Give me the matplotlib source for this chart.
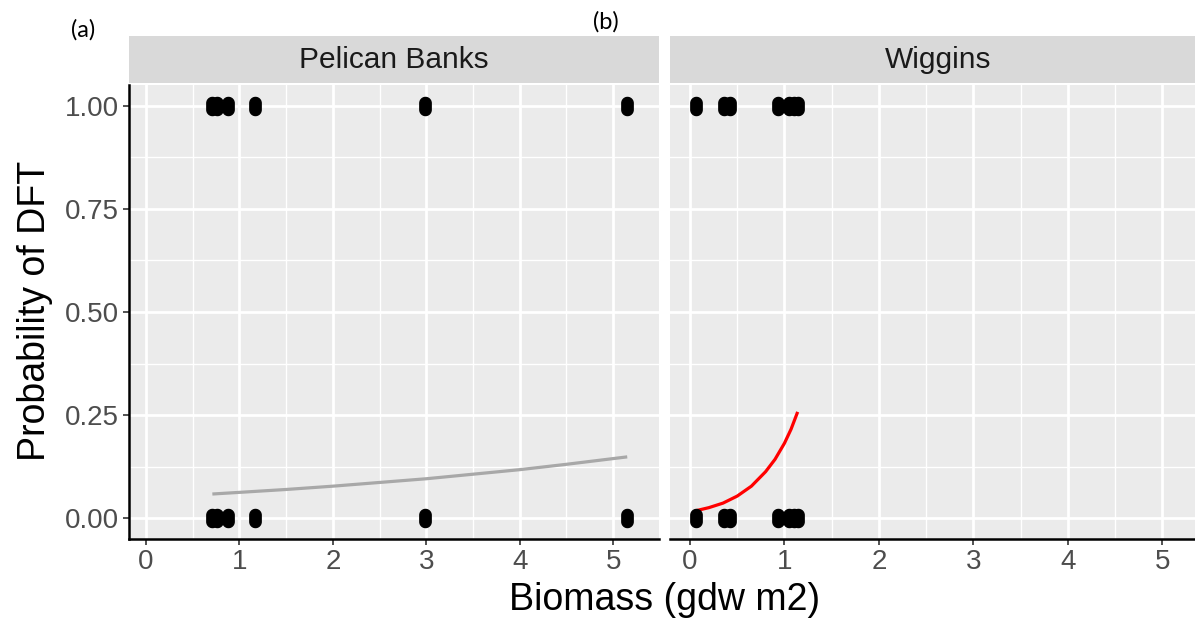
import matplotlib
matplotlib.use("Agg")
import matplotlib.pyplot as plt
import numpy as np
from matplotlib.path import Path
from matplotlib.ticker import MultipleLocator

# ---------------- data ----------------
panels = ["Pelican Banks", "Wiggins"]

pb_biomass = [0.71, 0.76, 0.88, 1.17, 2.99, 5.15]
wg_biomass = [0.06, 0.355, 0.425, 0.93, 1.05, 1.10, 1.14]
dft_present = [1.0]
dft_absent = [0.0]

pb_fit_x = [0.71, 1.0, 1.5, 2.0, 2.5, 3.0, 3.5, 4.0, 4.5, 5.15]
pb_fit_y = [0.059, 0.063, 0.070, 0.078, 0.087, 0.096, 0.107, 0.118, 0.131, 0.149]

wg_fit_x = [0.053, 0.2, 0.35, 0.5, 0.65, 0.8, 0.9, 1.0, 1.07, 1.14]
wg_fit_y = [0.018, 0.026, 0.037, 0.054, 0.078, 0.113, 0.143, 0.182, 0.216, 0.258]

x_ticks = [0, 1, 2, 3, 4, 5]
y_ticks = [0.00, 0.25, 0.50, 0.75, 1.00]
y_tick_labels = ["0.00", "0.25", "0.50", "0.75", "1.00"]

# ---------------- style ----------------
W, H = 1195, 621
fig = plt.figure(figsize=(W / 100, H / 100), dpi=100)
FONT = ["Liberation Sans", "DejaVu Sans"]
plt.rcParams["font.family"] = FONT

panel_bg = "#EBEBEB"
strip_bg = "#D9D9D9"
tick_col = "#4D4D4D"

# stadium-shaped marker (overlapping jittered points look like this)
t = np.linspace(0, np.pi, 20)
top = np.column_stack([0.5 * np.cos(t), 0.3 + 0.5 * np.sin(t)])
bot = np.column_stack([-0.5 * np.cos(t), -0.3 - 0.5 * np.sin(t)])
verts = np.vstack([top, bot, top[:1]])
stadium = Path(verts, closed=True)


def fpos(x0, y0, x1, y1):
    return [x0 / W, 1 - y1 / H, (x1 - x0) / W, (y1 - y0) / H]


panel_top, panel_bot = 85, 539
specs = [
    (129, 659, (-0.182, 5.49), pb_biomass, pb_fit_x, pb_fit_y, "#A8A8A8", True),
    (670, 1207, (-0.212, 5.475), wg_biomass, wg_fit_x, wg_fit_y, "#FF0000", False),
]

for (x0, x1, xlim, xs, fx, fy, lc, show_y), name in zip(specs, panels):
    ax = fig.add_axes(fpos(x0, panel_top, x1, panel_bot))
    ax.set_facecolor(panel_bg)
    ax.set_xlim(*xlim)
    ax.set_ylim(-0.05, 1.05)
    ax.set_xticks(x_ticks)
    ax.set_xticklabels([str(v) for v in x_ticks])
    ax.xaxis.set_minor_locator(MultipleLocator(0.5))
    ax.set_yticks(y_ticks)
    ax.yaxis.set_minor_locator(MultipleLocator(0.125))
    ax.grid(which="major", color="white", lw=2.0)
    ax.grid(which="minor", color="white", lw=1.0)
    ax.set_axisbelow(True)
    for s in ["top", "right"]:
        ax.spines[s].set_visible(False)
    ax.spines["bottom"].set_linewidth(1.8)
    ax.spines["bottom"].set_color("black")
    ax.tick_params(axis="x", which="major", length=4, width=1.2, color="#333333",
                   labelsize=20, labelcolor=tick_col, pad=3)
    ax.tick_params(which="minor", length=0)
    if show_y:
        ax.spines["left"].set_linewidth(1.8)
        ax.spines["left"].set_color("black")
        ax.set_yticklabels(y_tick_labels)
        ax.tick_params(axis="y", which="major", length=4, width=1.2, color="#333333",
                       labelsize=20, labelcolor=tick_col, pad=3)
    else:
        ax.spines["left"].set_visible(False)
        ax.tick_params(axis="y", which="major", length=0, labelleft=False)

    ax.plot(fx, fy, color=lc, lw=2.3, solid_capstyle="butt", zorder=3)
    ax.plot(xs, dft_present * len(xs), ls="none", marker=stadium, ms=13,
            color="black", zorder=4)
    ax.plot(xs, dft_absent * len(xs), ls="none", marker=stadium, ms=13,
            color="black", zorder=4)

    # strip
    sx = fig.add_axes(fpos(x0, 36, x1, 83))
    sx.set_facecolor(strip_bg)
    sx.set_xticks([])
    sx.set_yticks([])
    for s in sx.spines.values():
        s.set_visible(False)
    sx.text(0.5, 0.5, name, transform=sx.transAxes, ha="center", va="center",
            fontsize=21.5, color="#1A1A1A")

fig.text(665 / W, 1 - 600 / H, "Biomass (gdw m2)", ha="center", va="center",
         fontsize=27, color="black")
fig.text(35 / W, 1 - 311 / H, "Probability of DFT", ha="center", va="center",
         rotation=90, fontsize=27, color="black")

lab_font = ["Lato", "DejaVu Sans"]
fig.text(83 / W, 1 - 30 / H, "(a)", ha="center", va="center", fontsize=17,
         family=lab_font, color="black")
fig.text(606 / W, 1 - 22 / H, "(b)", ha="center", va="center", fontsize=17,
         family=lab_font, color="black")

fig.savefig("out.png", dpi=100, facecolor="white")
